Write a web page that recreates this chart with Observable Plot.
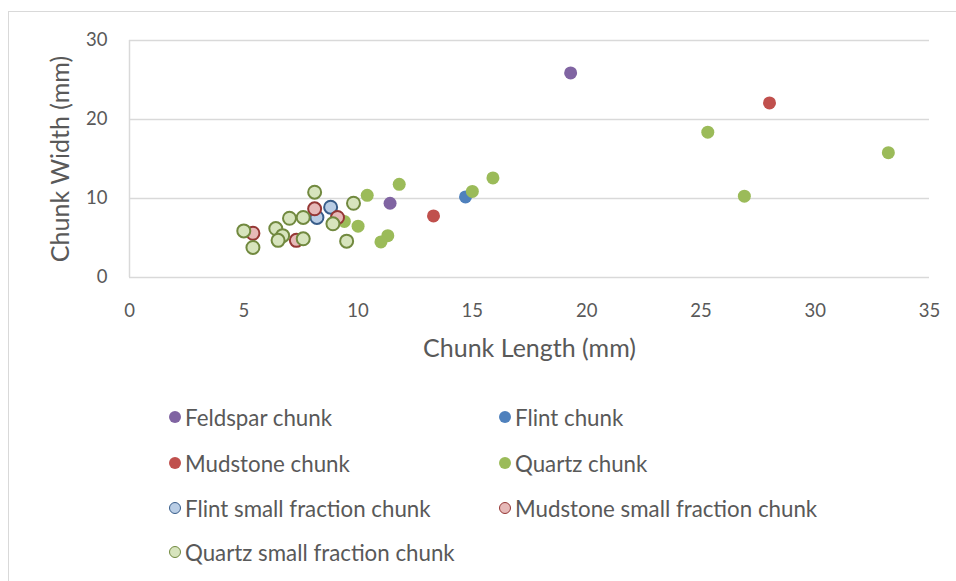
<!DOCTYPE html>
<html>
<head>
<meta charset="utf-8">
<script src="https://cdn.jsdelivr.net/npm/d3@7"></script>
<script src="https://cdn.jsdelivr.net/npm/@observablehq/plot@0.6"></script>
<style>
  html, body { margin: 0; padding: 0; background: #fff; }
  body { width: 956px; height: 581px; overflow: hidden; position: relative; font-family: Lato, "Open Sans", sans-serif; }
  #frame { position: absolute; left: 8px; top: 11px; width: 1000px; height: 700px; border-left: 1.5px solid #d9d9d9; border-top: 1.5px solid #d9d9d9; }
  #chart { position: absolute; left: 0; top: 0; }
  #legend { position: absolute; left: 0; top: 0; width: 956px; height: 581px; pointer-events: none; }
  .item { position: absolute; display: flex; align-items: center; font-size: 22.3px; color: #595959; white-space: nowrap; height: 26px; }
  .sw { width: 12px; height: 12px; border-radius: 50%; margin-right: 4px; box-sizing: border-box; flex: none; }
</style>
</head>
<body>
<div id="frame"></div>
<div id="chart"></div>
<div id="legend"></div>
<script>
// ---- data (mm) ----
const feldsparX = [19.3, 11.4];
const feldsparY = [25.9, 9.4];
const flintX = [14.7];
const flintY = [10.2];
const mudstoneX = [28.0, 13.3];
const mudstoneY = [22.1, 7.8];
const quartzX = [25.3, 33.2, 26.9, 15.9, 15.0, 11.8, 10.4, 10.0, 9.4, 11.3, 11.0];
const quartzY = [18.4, 15.8, 10.3, 12.6, 10.9, 11.8, 10.4, 6.5, 7.1, 5.3, 4.5];
const flintSmallX = [8.2, 8.8];
const flintSmallY = [7.6, 8.9];
const mudstoneSmallX = [5.4, 7.3, 8.1, 9.1];
const mudstoneSmallY = [5.6, 4.7, 8.7, 7.6];
const quartzSmallX = [5.0, 5.4, 6.4, 6.7, 6.5, 7.6, 7.0, 7.6, 8.1, 8.9, 9.8, 9.5];
const quartzSmallY = [5.9, 3.8, 6.2, 5.3, 4.7, 4.9, 7.5, 7.6, 10.8, 6.8, 9.4, 4.6];

const xTicks = [0, 5, 10, 15, 20, 25, 30, 35];
const yTicks = [0, 10, 20, 30];

const series = [
  {name: "Feldspar chunk", xs: feldsparX, ys: feldsparY, fill: "#8064A2", stroke: "none"},
  {name: "Flint chunk", xs: flintX, ys: flintY, fill: "#4F81BD", stroke: "none"},
  {name: "Mudstone chunk", xs: mudstoneX, ys: mudstoneY, fill: "#C0504D", stroke: "none"},
  {name: "Quartz chunk", xs: quartzX, ys: quartzY, fill: "#9BBB59", stroke: "none"},
  {name: "Flint small fraction chunk", xs: flintSmallX, ys: flintSmallY, fill: "#B9CDE5", stroke: "#385D8A"},
  {name: "Mudstone small fraction chunk", xs: mudstoneSmallX, ys: mudstoneSmallY, fill: "#E6B9B8", stroke: "#953735"},
  {name: "Quartz small fraction chunk", xs: quartzSmallX, ys: quartzSmallY, fill: "#D7E4BD", stroke: "#71893F"}
];

const dotMarks = series.map(s => {
  const rows = s.xs.map((x, i) => ({x, y: s.ys[i]}));
  return Plot.dot(rows, {x: "x", y: "y", r: 6.5, fill: s.fill,
    stroke: s.stroke === "none" ? null : s.stroke, strokeWidth: 2});
});

const plot = Plot.plot({
  width: 956,
  height: 380,
  marginLeft: 129,
  marginRight: 27,
  marginTop: 40,
  marginBottom: 103,
  style: {fontFamily: "Lato, 'Open Sans', sans-serif", background: "transparent"},
  x: {domain: [0, 35], ticks: xTicks, label: null},
  y: {domain: [0, 30], ticks: yTicks, label: null},
  marks: [
    Plot.gridY(yTicks, {stroke: "#d9d9d9", strokeOpacity: 1, strokeWidth: 1.5}),
    Plot.ruleX([0], {stroke: "#d9d9d9", strokeWidth: 1.5}),
    Plot.axisX(xTicks, {tickSize: 0, tickPadding: 26, fontSize: 18.5, fill: "#595959", label: null}),
    Plot.axisY(yTicks, {tickSize: 0, tickPadding: 22, fontSize: 18.5, fill: "#595959", label: null}),
    Plot.text(["Chunk Length (mm)"], {frameAnchor: "bottom", lineAnchor: "middle", dy: 71, fontSize: 25, fill: "#595959"}),
    Plot.text(["Chunk Width (mm)"], {frameAnchor: "left", textAnchor: "middle", lineAnchor: "middle", dx: -69, rotate: -90, fontSize: 25, fill: "#595959"}),
    ...dotMarks
  ]
});
document.getElementById("chart").appendChild(plot);

// legend
const legend = document.getElementById("legend");
const colX = [169, 499];
const rowY = [417, 463, 508, 552];
series.forEach((s, i) => {
  const col = i % 2, row = Math.floor(i / 2);
  const item = document.createElement("div");
  item.className = "item";
  item.style.left = colX[col] + "px";
  item.style.top = (rowY[row] - 13) + "px";
  const sw = document.createElement("span");
  sw.className = "sw";
  sw.style.background = s.fill;
  if (s.stroke !== "none") sw.style.border = "1.5px solid " + s.stroke;
  const t = document.createElement("span");
  t.textContent = s.name;
  item.appendChild(sw);
  item.appendChild(t);
  legend.appendChild(item);
});
</script>
</body>
</html>
